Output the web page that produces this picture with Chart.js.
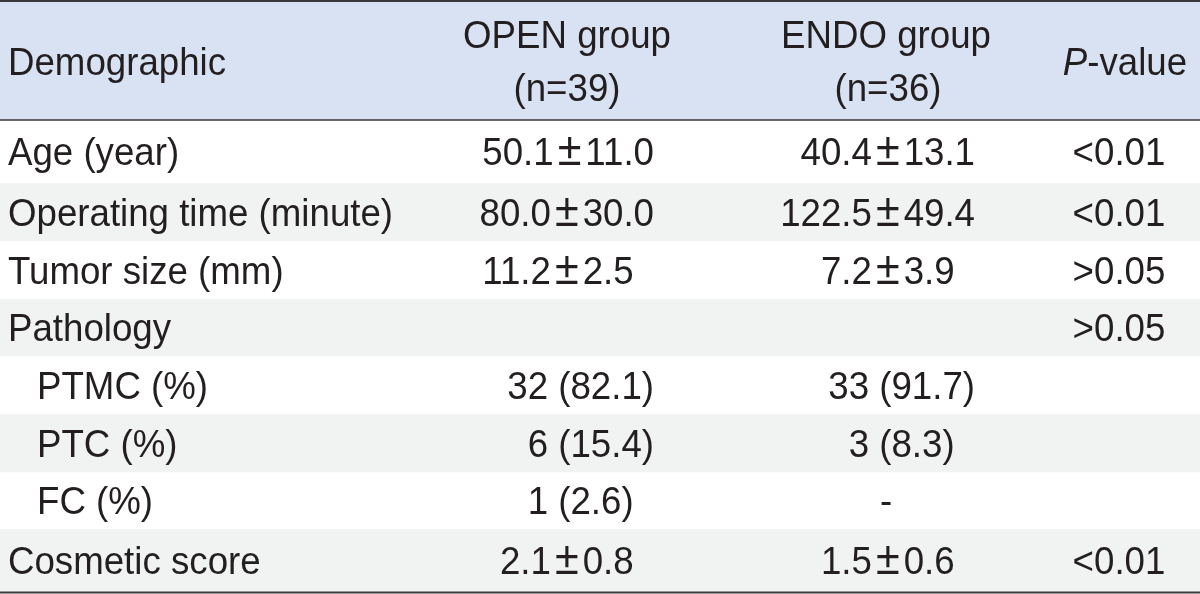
<!DOCTYPE html>
<html>
<head>
<meta charset="utf-8">
<script src="https://cdn.jsdelivr.net/npm/chart.js@4"></script>
<style>
  html, body { margin: 0; padding: 0; background: #fff; }
  #wrap { width: 1200px; height: 594px; }
</style>
</head>
<body>
<div id="wrap"><canvas id="table-chart"></canvas></div>
<script>
// table contents
const headerLines = [
  ["Demographic"],
  ["OPEN group", "(n=39)"],
  ["ENDO group", "(n=36)"],
  ["P-value"],
];
const rowLabels = [
  "Age (year)",
  "Operating time (minute)",
  "Tumor size (mm)",
  "Pathology",
  "PTMC (%)",
  "PTC (%)",
  "FC (%)",
  "Cosmetic score",
];
const openValues = ["50.1±11.0", "80.0±30.0", "11.2±2.5", "", "32 (82.1)", "6 (15.4)", "1 (2.6)", "2.1±0.8"];
const endoValues = ["40.4±13.1", "122.5±49.4", "7.2±3.9", "", "33 (91.7)", "3 (8.3)", "-", "1.5±0.6"];
const pValues = ["<0.01", "<0.01", ">0.05", ">0.05", "", "", "", "<0.01"];

// layout (not data): band heights in px, indent of sub rows, digit padding
const headerHeight = 118;
const rowHeights = [63, 58, 58, 57, 58, 58, 57, 63];
const subRow = [false, false, false, false, true, true, true, false];
const openPad = [0, 0, 1, 0, 0, 0, 1, 1];
const endoPad = [0, 0, 1, 0, 0, 1, 0, 1];

const HEADER_BG = "#d9e2f2";
const STRIPE_BG = "#f1f2f2";
const TEXT = "#231f20";
const RULE = "#3a3a3a";
const FONT_PX = 39;
const PM_PX = 46; // the ± sign is set a little larger in the original
const SX = 0.94; // the original type is a bit narrower than Liberation Sans
const DIGIT = 20.4;
const PM_GAP = 4; // extra room either side of the ± sign

const bandHeights = [headerHeight].concat(rowHeights);
const total = bandHeights.reduce((a, b) => a + b, 0);

const datasets = bandHeights.map((h, i) => ({
  label: i === 0 ? "header" : rowLabels[i - 1],
  data: [h],
  backgroundColor: i === 0 ? HEADER_BG : (i % 2 === 0 ? STRIPE_BG : "#ffffff"),
  borderWidth: 0,
  barPercentage: 1,
  categoryPercentage: 1,
}));

function partWidth(ctx, part) {
  if (part !== "±") return ctx.measureText(part).width * SX;
  const f = ctx.font;
  ctx.font = f.replace(FONT_PX + "px", PM_PX + "px");
  const w = ctx.measureText(part).width * SX + 2 * PM_GAP;
  ctx.font = f;
  return w;
}

function put(ctx, text, x, y, align) {
  const parts = text.includes("±") ? text.split(/(±)/) : [text];
  const w = parts.reduce((s, p) => s + partWidth(ctx, p), 0);
  const left = align === "center" ? x - w / 2 : align === "right" ? x - w : x;
  let cx = left;
  parts.forEach((part) => {
    const f = ctx.font;
    let dx = 0;
    if (part === "±") {
      ctx.font = f.replace(FONT_PX + "px", PM_PX + "px");
      dx = PM_GAP;
    }
    ctx.save();
    ctx.translate(cx + dx, y);
    ctx.scale(SX, 1);
    ctx.textAlign = "left";
    ctx.fillText(part, 0, 0);
    ctx.restore();
    ctx.font = f;
    cx += partWidth(ctx, part);
  });
  return w;
}

const tablePlugin = {
  id: "tableText",
  afterDatasetsDraw(chart) {
    const ctx = chart.ctx;
    const yScale = chart.scales.y;
    const area = chart.chartArea;
    const normal = FONT_PX + "px 'Liberation Sans', Arial, sans-serif";
    const italic = "italic " + normal;
    const capHalf = FONT_PX * 0.716 / 2;

    // band edges
    const edges = [0];
    bandHeights.forEach((h) => edges.push(edges[edges.length - 1] + h));
    const px = edges.map((v) => yScale.getPixelForValue(v));

    ctx.save();
    ctx.fillStyle = TEXT;
    ctx.textBaseline = "alphabetic";
    ctx.font = normal;

    // header
    const hMid = (px[0] + px[1]) / 2;
    const base = hMid + capHalf;
    put(ctx, headerLines[0][0], 8, base, "left");
    put(ctx, headerLines[1][0], 567, base - 26.5, "center");
    put(ctx, headerLines[1][1], 567, base + 26.5, "center");
    put(ctx, headerLines[2][0], 886, base - 26.5, "center");
    put(ctx, headerLines[2][1], 888, base + 26.5, "center");
    // P-value with italic P
    const pv = headerLines[3][0];
    ctx.font = italic;
    const wP = ctx.measureText(pv.charAt(0)).width * SX;
    ctx.font = normal;
    const wRest = ctx.measureText(pv.slice(1)).width * SX;
    const pLeft = 1125 - (wP + wRest) / 2;
    ctx.font = italic;
    put(ctx, pv.charAt(0), pLeft, base, "left");
    ctx.font = normal;
    put(ctx, pv.slice(1), pLeft + wP, base, "left");

    // body rows
    rowLabels.forEach((label, i) => {
      const mid = (px[i + 1] + px[i + 2]) / 2;
      const y = mid + capHalf;
      put(ctx, label, subRow[i] ? 37 : 8, y, "left");
      if (openValues[i]) put(ctx, openValues[i], 654 - openPad[i] * DIGIT, y, "right");
      if (endoValues[i] === "-") {
        put(ctx, endoValues[i], 886, y, "center");
      } else if (endoValues[i]) {
        put(ctx, endoValues[i], 975 - endoPad[i] * DIGIT, y, "right");
      }
      if (pValues[i]) put(ctx, pValues[i], 1119, y, "center");
    });

    // rules
    ctx.strokeStyle = RULE;
    ctx.lineWidth = 2;
    ctx.beginPath();
    ctx.moveTo(area.left, 1); ctx.lineTo(area.right, 1);
    ctx.stroke();
    ctx.lineWidth = 1.5;
    ctx.beginPath();
    ctx.moveTo(area.left, px[1]); ctx.lineTo(area.right, px[1]);
    ctx.stroke();
    ctx.lineWidth = 2;
    ctx.beginPath();
    ctx.moveTo(area.left, px[px.length - 1] + 0.5); ctx.lineTo(area.right, px[px.length - 1] + 0.5);
    ctx.stroke();
    ctx.restore();
  },
};

new Chart(document.getElementById("table-chart"), {
  type: "bar",
  data: { labels: [""], datasets },
  options: {
    responsive: true,
    maintainAspectRatio: false,
    animation: false,
    events: [],
    layout: { padding: { top: 2, bottom: 2, left: 0, right: 0 } },
    plugins: { legend: { display: false }, tooltip: { enabled: false } },
    scales: {
      x: { display: false, stacked: true },
      y: { display: false, stacked: true, reverse: true, min: 0, max: total },
    },
  },
  plugins: [tablePlugin],
});
</script>
</body>
</html>
